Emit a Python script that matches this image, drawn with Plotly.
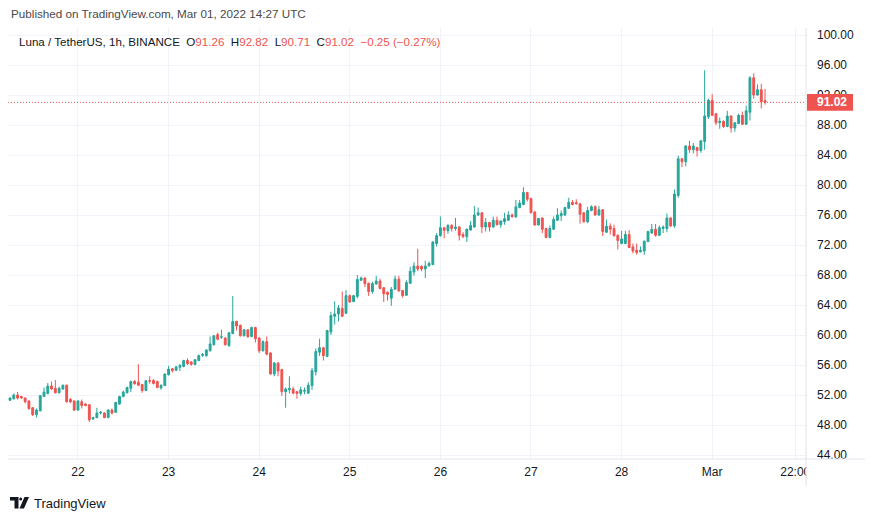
import plotly.graph_objects as go
import pandas as pd

# ---------------- data (hourly candles, first candle Feb 21 2022 06:00 UTC) ----------------
start_time = "2022-02-21 06:00"

opens = [51.3, 51.5, 52.0, 51.8, 51.6, 51.2, 50.3, 49.4, 49.9, 51.8, 52.2, 53.2, 52.9, 52.3, 52.8, 53.3, 51.4, 51.2,
         50.0, 51.1, 50.8, 50.7, 48.8, 49.0, 49.6, 49.6, 49.0, 50.0, 49.7, 50.8, 51.8, 52.3, 52.9, 53.8, 53.7, 53.4,
         52.6, 53.9, 53.95, 53.8, 52.95, 53.25,
         54.7, 55.5, 55.3, 55.7, 55.8, 56.6, 56.4, 56.05, 56.6, 57.3, 57.25, 57.9, 58.7, 60.05, 59.7, 59.6, 58.6, 60.2,
         61.8, 61.3, 59.9, 60.7, 59.8, 61.0,
         59.6, 57.9, 59.1, 57.6, 54.8, 56.25, 55.4, 52.45, 52.7, 52.8, 52.45, 52.2, 52.5, 52.25, 53.25, 55.1, 57.7, 58.3,
         57.15, 60.4, 62.5, 62.8, 63.55, 62.9,
         65.25, 64.45, 65.15, 67.3, 67.6, 66.9, 65.8, 66.8, 67.2, 66.3, 65.7, 64.9, 66.1, 67.45, 65.95, 65.3, 66.9, 68.4,
         69.2, 69.15, 68.8, 69.25, 69.4, 72.2,
         73.25, 74.3, 73.9, 74.6, 74.2, 74.4, 73.4, 73.1, 74.0, 74.4, 76.0, 76.3, 74.4, 75.0, 74.4, 75.3, 74.7, 75.1,
         75.3, 76.0, 75.75, 77.0, 77.4, 79.0,
         78.2, 76.4, 74.67, 75.6, 74.2, 73.0, 74.1, 75.3, 75.9, 76.0, 76.9, 77.7, 77.65, 77.5, 76.3, 75.1, 76.6, 77.1,
         76.0, 76.7, 73.7, 74.5, 74.2, 73.3,
         72.2, 72.2, 73.4, 71.75, 71.3, 71.1, 71.2, 72.45, 73.6, 74.1, 73.3, 74.2, 74.2, 75.6, 74.55, 78.6, 83.5, 83.1,
         85.2, 84.7, 85.0, 84.6, 85.8, 89.1,
         91.3, 89.5, 88.3, 88.5, 87.8, 89.2, 87.6, 88.2, 89.3, 88.1, 89.7, 94.3, 92.0, 92.7, 91.26]

highs = [51.7, 52.2, 52.4, 51.9, 51.7, 51.3, 50.4, 50.2, 52.0, 53.0, 53.6, 53.8, 54.0, 53.1, 53.4, 53.4, 51.6, 51.3,
         51.3, 51.4, 50.9, 50.8, 49.1, 50.3, 49.9, 49.7, 50.1, 50.2, 51.1, 51.9, 52.6, 53.1, 53.9, 54.0, 56.1, 53.5,
         54.0, 54.5, 54.1, 53.9, 53.4, 54.9,
         55.9, 55.6, 55.9, 56.1, 56.7, 56.9, 56.5, 56.8, 57.4, 57.6, 58.1, 59.8, 60.0, 60.3, 60.7, 59.7, 60.4, 65.2,
         61.9, 61.4, 60.8, 60.8, 61.1, 61.1,
         59.7, 59.3, 59.8, 57.7, 56.4, 56.4, 55.5, 53.0, 54.5, 53.1, 52.5, 53.1, 53.0, 53.7, 55.6, 58.2, 59.5, 58.4,
         60.7, 63.1, 64.5, 64.0, 65.8, 66.0,
         65.4, 65.3, 68.0, 67.8, 67.7, 67.0, 67.1, 67.9, 67.5, 66.4, 65.8, 66.4, 67.9, 67.9, 66.0, 67.3, 69.1, 69.7,
         71.5, 69.3, 69.9, 69.8, 72.5, 73.6,
         75.8, 74.4, 74.8, 74.8, 75.6, 74.5, 73.7, 74.2, 75.2, 77.2, 77.0, 76.4, 75.6, 75.1, 75.8, 75.8, 75.3, 76.3,
         76.5, 76.2, 78.0, 78.0, 79.7, 79.1,
         78.3, 76.5, 75.6, 75.7, 74.3, 74.6, 75.8, 76.9, 76.6, 77.1, 78.3, 78.0, 78.1, 77.6, 76.4, 77.1, 77.3, 77.3,
         77.2, 76.8, 75.4, 74.9, 74.7, 73.4,
         73.9, 73.9, 74.0, 72.2, 72.2, 71.8, 72.6, 73.9, 74.8, 74.8, 74.6, 74.6, 76.2, 75.7, 79.4, 83.9, 83.6, 85.3,
         85.9, 85.6, 85.1, 86.0, 95.3, 91.5,
         92.1, 89.6, 89.0, 88.6, 89.9, 89.3, 88.4, 89.5, 89.8, 90.6, 94.5, 94.9, 93.4, 93.5, 92.82]

lows = [51.2, 51.4, 51.4, 51.5, 50.9, 50.0, 49.2, 49.0, 49.8, 51.8, 52.1, 52.7, 52.2, 52.2, 52.7, 51.0, 50.9, 49.9,
        49.9, 50.2, 50.5, 48.4, 48.7, 48.9, 49.4, 48.9, 48.9, 49.4, 49.6, 50.7, 51.7, 52.2, 52.4, 53.4, 53.2, 52.3,
        52.5, 53.5, 53.4, 52.9, 52.7, 53.2,
        54.6, 55.0, 55.2, 55.2, 55.7, 56.0, 55.9, 56.0, 56.5, 57.1, 57.1, 57.8, 58.6, 59.3, 59.5, 58.6, 58.4, 60.1,
        60.6, 59.8, 59.8, 59.6, 59.7, 59.0,
        57.6, 57.8, 57.3, 54.7, 54.5, 54.5, 51.9, 50.3, 52.2, 52.1, 51.5, 51.9, 52.1, 52.1, 52.7, 54.6, 57.2, 56.6,
        57.1, 60.0, 61.4, 61.8, 62.4, 62.8,
        64.3, 64.4, 64.9, 67.2, 66.4, 65.2, 65.5, 66.7, 66.1, 64.4, 64.6, 63.9, 66.0, 65.8, 64.98, 65.2, 66.8, 67.9,
        68.5, 68.5, 67.6, 69.1, 69.3, 71.8,
        73.1, 72.9, 73.5, 73.8, 73.9, 72.6, 72.9, 72.4, 73.9, 74.3, 75.9, 73.6, 73.8, 73.8, 74.3, 74.6, 74.3, 74.7,
        75.2, 75.7, 75.6, 76.9, 77.3, 77.8,
        76.2, 74.6, 74.6, 73.6, 72.9, 72.9, 74.0, 75.2, 75.2, 75.9, 76.8, 77.3, 77.4, 74.85, 75.0, 74.9, 76.5, 75.9,
        75.9, 73.2, 73.6, 73.4, 73.1, 71.4,
        72.1, 72.1, 71.6, 70.9, 70.7, 71.0, 70.7, 72.4, 73.5, 73.1, 73.2, 73.6, 73.7, 74.4, 74.3, 78.3, 82.4, 82.5,
        84.3, 84.2, 83.8, 84.3, 84.7, 88.8,
        89.2, 88.0, 87.5, 87.6, 87.7, 87.0, 87.1, 88.1, 88.0, 88.0, 88.6, 91.5, 91.9, 90.2, 90.71]

closes = [51.6, 52.0, 51.6, 51.6, 51.1, 50.2, 49.4, 50.0, 51.9, 52.4, 53.2, 52.8, 52.3, 52.9, 53.3, 51.1, 51.1, 50.0,
          51.2, 50.6, 50.6, 48.7, 49.0, 49.6, 49.7, 49.0, 50.0, 49.6, 51.0, 51.8, 52.4, 53.0, 53.8, 53.5, 53.3, 52.6,
          53.9, 53.85, 53.55, 53.0, 53.3, 54.8,
          55.45, 55.25, 55.75, 55.95, 56.6, 56.2, 56.1, 56.7, 57.25, 57.4, 58.0, 58.8, 59.9, 59.45, 59.75, 58.7, 60.3, 61.8,
          61.2, 59.9, 60.7, 59.8, 61.0, 59.5,
          57.9, 59.1, 57.45, 54.8, 56.25, 55.2, 52.45, 52.8, 52.9, 52.25, 52.2, 52.7, 52.6, 53.3, 55.25, 57.8, 58.3, 57.25,
          60.6, 62.6, 62.8, 63.6, 62.5, 65.25,
          64.4, 65.25, 67.4, 67.6, 66.85, 65.8, 66.85, 67.2, 66.2, 65.5, 65.4, 66.1, 67.45, 65.87, 65.25, 67.0, 68.5, 69.2,
          68.8, 68.8, 69.2, 69.55, 72.4, 73.25,
          74.3, 73.95, 74.6, 74.2, 74.4, 73.3, 73.15, 74.1, 74.6, 76.0, 76.3, 74.4, 75.0, 74.4, 75.3, 74.7, 75.2, 75.5,
          76.0, 75.75, 77.1, 77.6, 79.0, 78.1,
          76.3, 74.67, 75.55, 74.1, 73.0, 74.2, 75.4, 76.0, 76.2, 77.0, 77.7, 77.4, 77.5, 76.1, 75.1, 76.6, 77.1, 76.0,
          76.7, 73.8, 74.5, 74.1, 73.25, 72.6,
          72.8, 73.4, 71.65, 71.2, 71.0, 71.3, 72.5, 73.8, 74.1, 73.3, 74.3, 74.4, 75.6, 74.55, 78.8, 83.5, 83.1, 85.2,
          84.7, 85.2, 84.6, 85.9, 89.2, 91.3,
          89.3, 88.3, 88.5, 87.8, 89.2, 87.6, 88.3, 89.3, 88.1, 89.9, 94.3, 92.0, 92.7, 91.1, 91.02]

tick_vals = ["2022-02-22", "2022-02-23", "2022-02-24", "2022-02-25", "2022-02-26",
             "2022-02-27", "2022-02-28", "2022-03-01", "2022-03-01 22:00"]
tick_text = ["22", "23", "24", "25", "26", "27", "28", "Mar", "22:00"]
y_ticks = [44, 48, 52, 56, 60, 64, 68, 72, 76, 80, 84, 88, 92, 96, 100]
last_price = 91.02

times = pd.date_range(start_time, periods=len(closes), freq="h")

# ---------------- layout geometry ----------------
W, H = 873, 521
PL, PR, PT, PB = 8, 806, 28, 459  # plot area in pixels
UP, DOWN = "#26a69a", "#ef5350"
BORDER = "#e0e3eb"
GRID = "#f0f3fa"
TXT = "#131722"
FONT = "Liberation Sans"
PX_PER_UNIT = 7.5


def px(x):
    return (x - PL) / (PR - PL)


def py(y):
    return (PB - y) / (PB - PT)


fig = go.Figure()
fig.add_trace(go.Candlestick(
    x=times, open=opens, high=highs, low=lows, close=closes,
    increasing=dict(line=dict(color=UP, width=1), fillcolor=UP),
    decreasing=dict(line=dict(color=DOWN, width=1), fillcolor=DOWN),
    whiskerwidth=0, showlegend=False, hoverinfo="skip",
))

# last price dotted line
fig.add_hline(y=last_price, line=dict(color=DOWN, width=1, dash="1px,2px"))

shapes = []
# frame
shapes.append(dict(type="rect", xref="paper", yref="paper", x0=0, x1=px(865), y0=py(486), y1=1,
                   line=dict(color=BORDER, width=1), layer="above"))
# clip area for axis corner
shapes.append(dict(type="rect", xref="paper", yref="paper", x0=px(806.5), x1=px(864.5), y0=py(485.5), y1=py(459.5),
                   line=dict(width=0), fillcolor="white", layer="above"))
# separators
shapes.append(dict(type="line", xref="paper", yref="paper", x0=1, x1=1, y0=py(486), y1=1,
                   line=dict(color=BORDER, width=1), layer="above"))
shapes.append(dict(type="line", xref="paper", yref="paper", x0=0, x1=px(865), y0=0, y1=0,
                   line=dict(color=BORDER, width=1), layer="above"))
# last price label box
half = 8.3 / PX_PER_UNIT
shapes.append(dict(type="rect", xref="paper", yref="y", x0=px(807), x1=px(853),
                   y0=last_price - half, y1=last_price + half,
                   line=dict(width=0), fillcolor=DOWN, layer="above"))


# TradingView logo
def path(points):
    return "M " + " L ".join(f"{px(a):.5f},{py(b):.5f}" for a, b in points) + " Z"


shapes.append(dict(type="path", xref="paper", yref="paper",
                   path=path([(10, 497), (18.5, 497), (18.5, 508.5), (14.5, 508.5), (14.5, 500.5), (10, 500.5)]),
                   fillcolor=TXT, line=dict(width=0), layer="above"))
shapes.append(dict(type="circle", xref="paper", yref="paper", x0=px(19.2), x1=px(22.2), y0=py(500.6), y1=py(497.4),
                   fillcolor=TXT, line=dict(width=0), layer="above"))
shapes.append(dict(type="path", xref="paper", yref="paper",
                   path=path([(24.5, 497), (29, 497), (24, 508.5), (19.5, 508.5)]),
                   fillcolor=TXT, line=dict(width=0), layer="above"))

annotations = [
    dict(xref="paper", yref="paper", x=px(9), y=py(14), xanchor="left", yanchor="middle", showarrow=False,
         text="Published on TradingView.com, Mar 01, 2022 14:27 UTC",
         font=dict(family=FONT, size=11.7, color="#4a4a4a")),
    dict(xref="paper", yref="paper", x=px(17), y=py(42), xanchor="left", yanchor="middle", showarrow=False,
         text=("Luna / TetherUS, 1h, BINANCE&nbsp;&nbsp;"
               f"O<span style='color:{DOWN}'>91.26</span>&nbsp;&nbsp;"
               f"H<span style='color:{DOWN}'>92.82</span>&nbsp;&nbsp;"
               f"L<span style='color:{DOWN}'>90.71</span>&nbsp;&nbsp;"
               f"C<span style='color:{DOWN}'>91.02</span>&nbsp;&nbsp;"
               f"<span style='color:{DOWN}'>\u22120.25 (\u22120.27%)</span>"),
         font=dict(family=FONT, size=11.6, color=TXT)),
    dict(xref="paper", yref="y", x=px(831.5), y=last_price, xanchor="center", yanchor="middle", showarrow=False,
         text="<b>91.02</b>", font=dict(family=FONT, size=12, color="white")),
    dict(xref="paper", yref="paper", x=px(32), y=py(503), xanchor="left", yanchor="middle", showarrow=False,
         text="TradingView", font=dict(family=FONT, size=13, color=TXT)),
]

fig.update_layout(
    width=W, height=H,
    margin=dict(l=PL, r=W - PR, t=PT, b=H - PB),
    paper_bgcolor="white", plot_bgcolor="white",
    shapes=shapes, annotations=annotations,
    showlegend=False,
    xaxis=dict(
        type="date",
        range=["2022-02-21 05:27:36", "2022-03-02 00:51:00"],
        rangeslider=dict(visible=False),
        tickvals=tick_vals, ticktext=tick_text,
        showgrid=True, gridcolor=GRID, gridwidth=1,
        zeroline=False, showline=False, ticks="",
        ticklabelstandoff=4,
        tickfont=dict(family=FONT, size=12, color=TXT),
    ),
    yaxis=dict(
        side="right",
        range=[43.467, 100.933],
        tickvals=y_ticks,
        ticktext=[f"{v:.2f}" for v in y_ticks],
        showgrid=True, gridcolor=GRID, gridwidth=1,
        zeroline=False, showline=False, ticks="",
        ticklabelstandoff=10,
        tickfont=dict(family=FONT, size=12, color=TXT),
    ),
)

fig.write_html("out.html")
